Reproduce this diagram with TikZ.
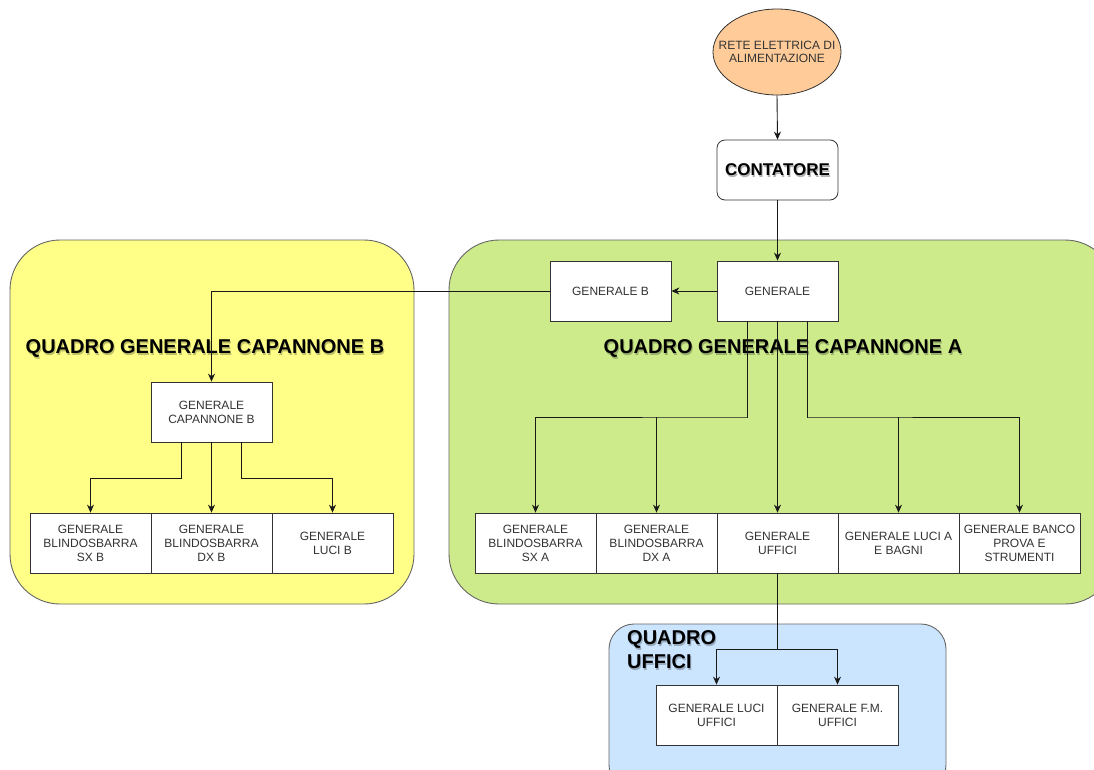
\documentclass[tikz,border=0pt]{standalone}
\usepackage{fontspec}
\setmainfont{Liberation Sans}
\usetikzlibrary{arrows.meta,shapes.geometric}
\definecolor{txt}{HTML}{333333}
\definecolor{edge}{HTML}{666666}
\definecolor{ylw}{HTML}{FFFF88}
\definecolor{grn}{HTML}{CDEB8B}
\definecolor{blu}{HTML}{CCE5FF}
\definecolor{org}{HTML}{FFCC99}
\tikzset{
  box/.style={draw=black!80, fill=white, line width=0.8pt, minimum width=121pt, minimum height=60pt, inner sep=0pt, align=center, text=txt, font=\fontsize{12}{14}\selectfont},
  group/.style={draw=edge, line width=0.9pt},
  arr/.style={draw=black!90, line width=0.9pt, -{Stealth[length=8pt,width=7pt]}},
  ln/.style={draw=black!90, line width=0.9pt},
  title/.style={font=\fontsize{20}{24}\selectfont\bfseries, text=black, inner sep=0pt},
  shadowt/.style={font=\fontsize{20}{24}\selectfont\bfseries, text=black, opacity=0.25, inner sep=0pt},
}
\begin{document}
\begin{tikzpicture}[x=1pt,y=-1pt]
\useasboundingbox (0,0) rectangle (1094,769);
\clip (0,0) rectangle (1094,769);
% containers
\path[group, fill=ylw, rounded corners=50pt] (10,240) rectangle (414,604);
\path[group, fill=grn, rounded corners=50pt] (449,240) rectangle (1115,604);
\path[group, fill=blu, rounded corners=25pt] (609,624) rectangle (946,790);
% titles
\node[shadowt] at (206,350) {QUADRO GENERALE CAPANNONE B};
\node[title] (tB) at (205,348) {QUADRO GENERALE CAPANNONE B};
\node[shadowt] at (784,350) {QUADRO GENERALE CAPANNONE A};
\node[title] (tA) at (783,348) {QUADRO GENERALE CAPANNONE A};
\node[shadowt, align=left, anchor=north west] at (628,632) {QUADRO\\UFFICI};
\node[title, align=left, anchor=north west] (tU) at (627,630) {QUADRO\\UFFICI};
% nodes
\node[ellipse, draw=black!80, fill=org, line width=0.8pt, minimum width=128pt, minimum height=86pt, inner sep=0pt] (rete) at (777,52) {};
\node[align=center, text=txt, font=\fontsize{12}{13}\selectfont, inner sep=0pt] (retetxt) at (rete.center) {RETE ELETTRICA DI\\ALIMENTAZIONE};
\node[box, rounded corners=8pt, minimum height=60pt] (cont) at (777.5,170) {};
\node[font=\fontsize{17}{20}\selectfont\bfseries, text=black, opacity=0.3] at (778.5,172) {CONTATORE};
\node[font=\fontsize{17}{20}\selectfont\bfseries, text=black] at (777.5,170) {CONTATORE};
\node[box] (gen) at (777.5,291) {GENERALE};
\node[box] (genb) at (610.5,291) {GENERALE B};
\node[box] (gcb) at (211.5,412) {GENERALE\\CAPANNONE B};
\node[box] (sxb) at (90.5,543) {GENERALE\\BLINDOSBARRA\\SX B};
\node[box] (dxb) at (211.5,543) {GENERALE\\BLINDOSBARRA\\DX B};
\node[box] (lucib) at (332.5,543) {GENERALE\\LUCI B};
\node[box] (sxa) at (535.5,543) {GENERALE\\BLINDOSBARRA\\SX A};
\node[box] (dxa) at (656.5,543) {GENERALE\\BLINDOSBARRA\\DX A};
\node[box] (uff) at (777.5,543) {GENERALE\\UFFICI};
\node[box] (lucia) at (898.5,543) {GENERALE LUCI A\\E BAGNI};
\node[box] (banco) at (1019.5,543) {GENERALE BANCO\\PROVA E\\STRUMENTI};
\node[box] (luciu) at (716.5,715) {GENERALE LUCI\\UFFICI};
\node[box] (fmu) at (837.5,715) {GENERALE F.M.\\UFFICI};
% connectors
\draw[arr] (rete.south) -- (cont.north);
\draw[arr] (cont.south) -- (gen.north);
\draw[arr] (gen.west) -- (genb.east);
\draw[arr] (genb.west) -| (gcb.north);
\draw[arr] ([xshift=-30pt]gcb.south) -- ++(0,36) -| (sxb.north);
\draw[arr] (gcb.south) -- (dxb.north);
\draw[arr] ([xshift=30pt]gcb.south) -- ++(0,36) -| (lucib.north);
\coordinate (jl) at (747,417);
\coordinate (jr) at (808,417);
\draw[arr] ([xshift=-30pt]gen.south) |- (jl) -| (sxa.north);
\draw[arr] (jl -| dxa.north) -- (dxa.north);
\draw[arr] (gen.south) -- (uff.north);
\draw[arr] ([xshift=30pt]gen.south) |- (jr) -| (banco.north);
\draw[arr] (jr -| lucia.north) -- (lucia.north);
\coordinate (ju) at (777.5,649);
\draw[ln] (uff.south) -- (ju);
\draw[arr] (ju) -| (luciu.north);
\draw[arr] (ju) -| (fmu.north);
\end{tikzpicture}
\end{document}
